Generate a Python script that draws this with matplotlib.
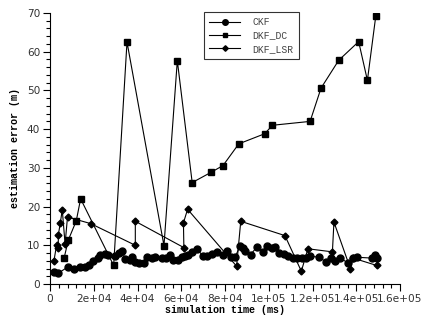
import matplotlib
matplotlib.use("Agg")
import matplotlib.pyplot as plt
from matplotlib.ticker import FixedLocator, FixedFormatter, MultipleLocator

ckf_x = [1970, 3800, 8400, 11100, 13900, 15800, 17700, 19800, 21800, 23000, 25100, 26700,
         29700, 31500, 33100, 34300, 36600, 37600, 38900, 40800, 42800, 44300, 46800, 48000,
         51000, 52900, 55000, 56400, 58700, 60500, 61700, 63200, 64800, 67300, 69800, 71900,
         74200, 76200, 79200, 81100, 82700, 84600, 86900, 88100, 89100, 91700, 94500, 97200,
         99300, 101300, 103000, 104800, 107000, 109000, 111000, 112800, 115100, 117000, 118900,
         123100, 126200, 128300, 130400, 132600, 136400, 138700, 140500, 147000, 148600, 149300]
ckf_y = [3.1, 2.8, 4.5, 3.8, 4.3, 4.5, 4.9, 6.0, 6.6, 7.6, 7.8, 7.6,
         7.2, 8.0, 8.4, 6.5, 6.3, 7.0, 5.7, 5.4, 5.4, 7.0, 6.6, 6.9,
         6.7, 6.6, 7.4, 6.3, 6.3, 6.9, 7.2, 7.6, 8.3, 9.0, 7.3, 7.2,
         7.8, 8.3, 7.6, 8.6, 6.9, 6.9, 9.9, 9.3, 8.6, 7.6, 9.5, 8.3,
         9.7, 9.3, 9.5, 8.0, 7.8, 7.2, 6.7, 6.6, 6.6, 6.7, 7.2,
         6.9, 5.7, 6.6, 6.0, 6.7, 5.4, 6.7, 6.9, 6.7, 7.4, 6.7]

dc_x = [6400, 8400, 12000, 14000, 29100, 35200, 52100, 58200, 65000, 73800, 79100,
        86300, 98100, 101700, 118900, 123900, 132000, 141100, 145100, 148900]
dc_y = [6.6, 11.4, 16.3, 22.0, 4.8, 62.5, 9.9, 57.7, 26.2, 28.9, 30.6,
        36.2, 38.8, 41.0, 42.0, 50.6, 57.8, 62.6, 52.6, 69.1]

lsr_x = [1800, 3000, 3800, 3800, 4700, 5600, 6900, 8000, 18600, 39000, 39000, 61200,
         61000, 62900, 85300, 87200, 107400, 114900, 117900, 129100, 129800, 137300,
         138500, 149300]
lsr_y = [6.0, 10.0, 9.3, 12.7, 15.7, 19.2, 10.3, 17.3, 15.6, 10.0, 16.2, 9.4,
         15.8, 19.3, 4.6, 16.2, 12.5, 3.3, 9.1, 8.3, 16.0, 4.0,
         6.7, 4.8]

xticks = [0, 20000, 40000, 60000, 80000, 100000, 120000, 140000, 160000]
xticklabels = ['0', '2e+04', '4e+04', '6e+04', '8e+04', '1e+05', '1.2e+05', '1.4e+05', '1.6e+05']
yticks = [0, 10, 20, 30, 40, 50, 60, 70]

fig = plt.figure(figsize=(4.22, 3.2), dpi=100)
ax = fig.add_axes([50/422, 36/320, 350/422, 271/320])

ax.plot(ckf_x, ckf_y, color='black', lw=0.8, marker='o', ms=5.0, label='CKF', zorder=3)
ax.plot(dc_x, dc_y, color='black', lw=0.8, marker='s', ms=4.2, label='DKF_DC', zorder=2)
ax.plot(lsr_x, lsr_y, color='black', lw=0.8, marker='D', ms=3.5, label='DKF_LSR', zorder=2)

ax.set_xlim(0, 160000)
ax.set_ylim(0, 70)
for s in ['top', 'right']:
    ax.spines[s].set_visible(False)
for s in ['left', 'bottom']:
    ax.spines[s].set_linewidth(0.8)

ax.xaxis.set_major_locator(FixedLocator(xticks))
ax.xaxis.set_major_formatter(FixedFormatter(xticklabels))
ax.xaxis.set_minor_locator(MultipleLocator(4000))
ax.yaxis.set_major_locator(FixedLocator(yticks))
ax.yaxis.set_minor_locator(MultipleLocator(2))
ax.tick_params(which='major', direction='out', length=5, width=0.8, labelsize=7.6,
               labelcolor='#333333', pad=2)
ax.tick_params(which='minor', direction='out', length=3, width=0.8)

lab_font = dict(family='Liberation Mono', weight='bold', size=7.2)
ax.set_xlabel('simulation time (ms)', fontdict=lab_font, labelpad=1)
ax.set_ylabel('estimation error (m)', fontdict=lab_font, labelpad=5)

leg = ax.legend(loc='upper left', bbox_to_anchor=(0.44, 1.005), frameon=True, fancybox=False,
                prop=dict(family='Liberation Mono', size=7), handlelength=3.2, markerscale=0.8,
                borderpad=0.55, labelspacing=0.35, handletextpad=1.2, borderaxespad=0)
leg.get_frame().set_edgecolor('black')
leg.get_frame().set_linewidth(0.8)
for t in leg.get_texts():
    t.set_color('#444444')

fig.savefig('out.png', dpi=100)
